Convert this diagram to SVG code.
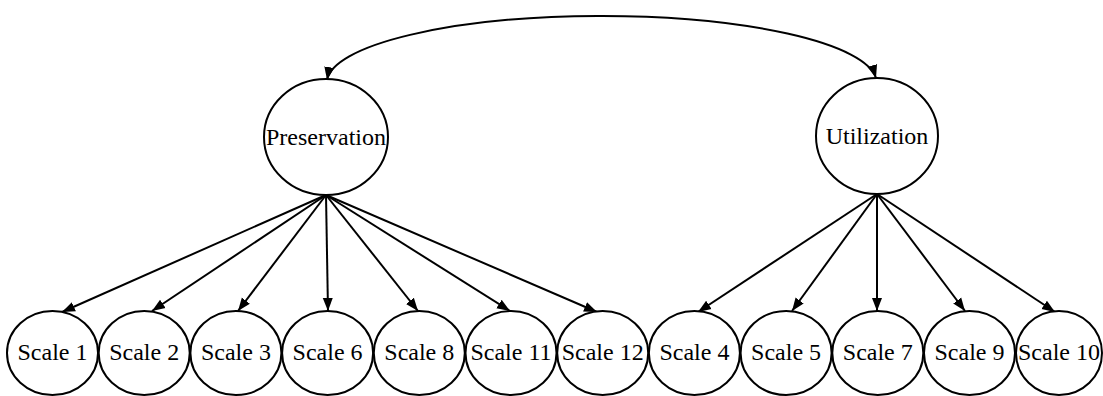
<svg xmlns="http://www.w3.org/2000/svg" width="1103" height="396" viewBox="0 0 1103 396">
<style>
.node ellipse{fill:#fff;stroke:#000;stroke-width:2}
.node text{font-family:"Liberation Serif","Times New Roman",serif;fill:#000;text-anchor:middle;font-size:24px}
.edge{fill:none;stroke:#000;stroke-width:2;marker-end:url(#ah)}
.both{marker-start:url(#ah)}
</style>
<defs>
<marker id="ah" markerUnits="userSpaceOnUse" markerWidth="14" markerHeight="12" refX="13" refY="5" orient="auto-start-reverse" viewBox="0 0 14 10">
<path d="M0,0 L13,5 L0,10 Z" fill="#000"/>
</marker>
</defs>
<rect width="1103" height="396" fill="#fff"/>
<g id="connectors">
<path class="edge both" d="M327,80 A275,67 0 0 1 876,78"/>
<path class="edge" d="M326,195 L62,312"/>
<path class="edge" d="M326,195 L152,311"/>
<path class="edge" d="M326,195 L238,311"/>
<path class="edge" d="M326,195 L328,311"/>
<path class="edge" d="M326,195 L418,311"/>
<path class="edge" d="M326,195 L510,311"/>
<path class="edge" d="M326,195 L597,312"/>
<path class="edge" d="M877,194 L698,312"/>
<path class="edge" d="M877,194 L792,311"/>
<path class="edge" d="M877,194 L877,311"/>
<path class="edge" d="M877,194 L965,311"/>
<path class="edge" d="M877,194 L1055,312"/>
</g>
<g id="preservation" class="node"><ellipse cx="326" cy="137" rx="62" ry="58"/><text x="326" y="145">Preservation</text></g>
<g id="utilization" class="node"><ellipse cx="877" cy="136" rx="61" ry="58"/><text x="877" y="144">Utilization</text></g>
<g id="scale1" class="node"><ellipse cx="52.5" cy="353" rx="45.5" ry="42"/><text x="52.5" y="360">Scale 1</text></g>
<g id="scale2" class="node"><ellipse cx="144.2" cy="353" rx="45.5" ry="42"/><text x="144.2" y="360">Scale 2</text></g>
<g id="scale3" class="node"><ellipse cx="235.9" cy="353" rx="45.5" ry="42"/><text x="235.9" y="360">Scale 3</text></g>
<g id="scale6" class="node"><ellipse cx="327.6" cy="353" rx="45.5" ry="42"/><text x="327.6" y="360">Scale 6</text></g>
<g id="scale8" class="node"><ellipse cx="419.3" cy="353" rx="45.5" ry="42"/><text x="419.3" y="360">Scale 8</text></g>
<g id="scale11" class="node"><ellipse cx="511" cy="353" rx="45.5" ry="42"/><text x="511" y="360">Scale 11</text></g>
<g id="scale12" class="node"><ellipse cx="602.7" cy="353" rx="45.5" ry="42"/><text x="602.7" y="360">Scale 12</text></g>
<g id="scale4" class="node"><ellipse cx="694.4" cy="353" rx="45.5" ry="42"/><text x="694.4" y="360">Scale 4</text></g>
<g id="scale5" class="node"><ellipse cx="786.1" cy="353" rx="45.5" ry="42"/><text x="786.1" y="360">Scale 5</text></g>
<g id="scale7" class="node"><ellipse cx="877.8" cy="353" rx="45.5" ry="42"/><text x="877.8" y="360">Scale 7</text></g>
<g id="scale9" class="node"><ellipse cx="969.5" cy="353" rx="45.5" ry="42"/><text x="969.5" y="360">Scale 9</text></g>
<g id="scale10" class="node"><ellipse cx="1059" cy="353" rx="43" ry="42"/><text x="1059" y="360">Scale 10</text></g>
</svg>
